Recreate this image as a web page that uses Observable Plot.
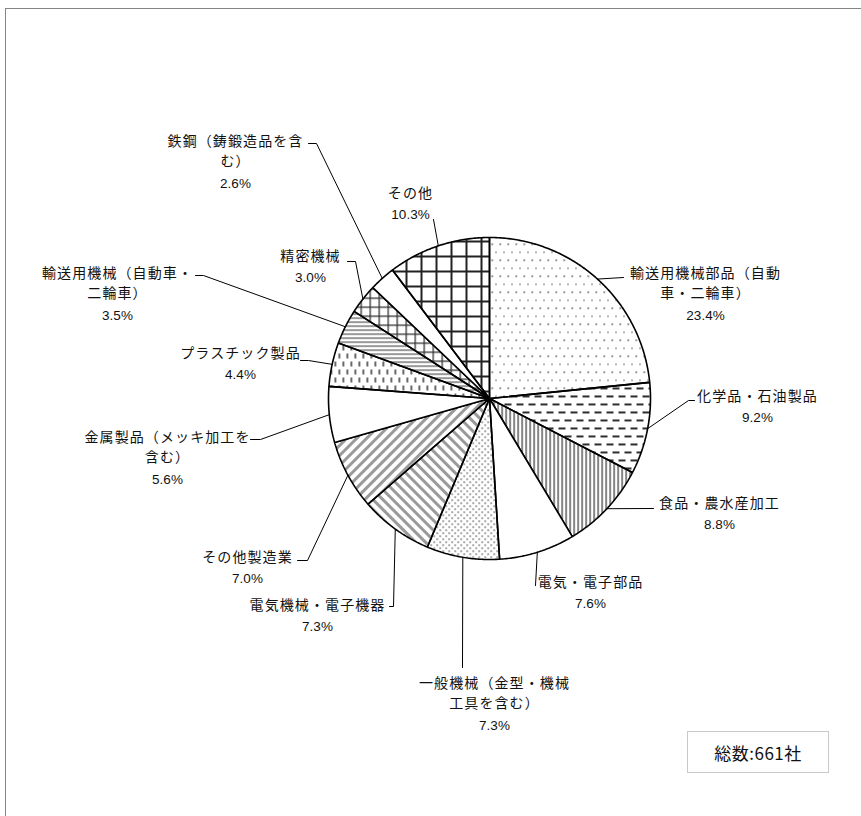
<!DOCTYPE html>
<html>
<head>
<meta charset="utf-8">
<script src="https://cdn.jsdelivr.net/npm/d3@7"></script>
<script src="https://cdn.jsdelivr.net/npm/@observablehq/plot@0.6"></script>
<style>
  html, body { margin: 0; padding: 0; background: #fff; }
  #wrap { position: relative; width: 861px; height: 816px; overflow: hidden; background: #fff; }
  #frame { position: absolute; left: 5px; top: 8px; width: 1000px; height: 1000px;
           border-left: 1px solid #858585; border-top: 1px solid #858585; }
  #chart { position: absolute; left: 0; top: 0; }
  #total { position: absolute; left: 687px; top: 731px; width: 142px; height: 42px; box-sizing: border-box;
           border: 1.5px solid #c9c9c9; background: #fff; display: flex; align-items: center; justify-content: center;
           font-family: "Noto Sans CJK JP", sans-serif; font-size: 17px; letter-spacing: 0.5px; color: #111; }
  g[font-family^="Noto"] text { letter-spacing: 1.1px; }
</style>
</head>
<body>
<div id="wrap">
  <div id="frame"></div>
  <div id="chart"></div>
  <div id="total"></div>
</div>
<script>
// ---- data (clockwise from 12 o'clock) ----
const categories = [
  "輸送用機械部品（自動車・二輪車）",
  "化学品・石油製品",
  "食品・農水産加工",
  "電気・電子部品",
  "一般機械（金型・機械工具を含む）",
  "電気機械・電子機器",
  "その他製造業",
  "金属製品（メッキ加工を含む）",
  "プラスチック製品",
  "輸送用機械（自動車・二輪車）",
  "精密機械",
  "鉄鋼（鋳鍛造品を含む）",
  "その他"
];
const shares = [23.4, 9.2, 8.8, 7.6, 7.3, 7.3, 7.0, 5.6, 4.4, 3.5, 3.0, 2.6, 10.3];
const labelLines = [
  ["輸送用機械部品（自動", "車・二輪車）"],
  ["化学品・石油製品"],
  ["食品・農水産加工"],
  ["電気・電子部品"],
  ["一般機械（金型・機械", "工具を含む）"],
  ["電気機械・電子機器"],
  ["その他製造業"],
  ["金属製品（メッキ加工を", "含む）"],
  ["プラスチック製品"],
  ["輸送用機械（自動車・", "二輪車）"],
  ["精密機械"],
  ["鉄鋼（鋳鍛造品を含", "む）"],
  ["その他"]
];
const totalLabel = "総数:661社";

// ---- styling / layout ----
const patterns = ["url(#p0)", "url(#p1)", "url(#p2)", "white", "url(#p4)", "url(#p5)", "url(#p6)",
                  "white", "url(#p8)", "url(#p9)", "url(#p10)", "white", "url(#p12)"];
const W = 861, H = 816, CX = 489, CY = 398, R = 161;
// label text block: [center x, first line y] (pixels)
const labelAt = [
  [705, 273], [757, 396], [719, 503], [590, 582], [494, 683], [317, 605], [247, 557],
  [167, 437], [240, 353], [117, 273], [310, 256], [235, 141], [410, 193]
];
// leader path points after the slice-edge point (pixels)
const leaderVia = [
  [[623, 277]],
  [[688, 400], [694, 400]],
  [[653, 508]],
  [[535, 585]],
  [[462, 667]],
  [[393, 606], [389, 606]],
  [[307, 560], [297, 560]],
  [[260, 439], [250, 439]],
  [[308, 360], [300, 360]],
  [[203, 275], [195, 275]],
  [[355, 261], [347, 261]],
  [[316, 143], [308, 143]],
  [[433, 219]]
];
const LINE = 20.5, PCT_GAP = 21.5;
const ux = px => (px - CX) / R;
const uy = py => (CY - py) / R;

// ---- geometry from data ----
const arcs = d3.pie().sort(null).value(d => d)(shares);
const sliceRows = [];
arcs.forEach((a, i) => {
  sliceRows.push({cat: i, x: 0, y: 0, pattern: patterns[i]});
  const n = Math.max(2, Math.ceil((a.endAngle - a.startAngle) / 0.01));
  for (let k = 0; k <= n; k++) {
    const t = a.startAngle + (a.endAngle - a.startAngle) * k / n;
    sliceRows.push({cat: i, x: Math.sin(t), y: Math.cos(t), pattern: patterns[i]});
  }
  sliceRows.push({cat: i, x: 0, y: 0, pattern: patterns[i]});
});

const leaderRows = [];
arcs.forEach((a, i) => {
  const m = (a.startAngle + a.endAngle) / 2;
  leaderRows.push({id: i, x: Math.sin(m), y: Math.cos(m)});
  for (const [px, py] of leaderVia[i]) leaderRows.push({id: i, x: ux(px), y: uy(py)});
});

const nameRows = [], pctRows = [];
labelLines.forEach((lines, i) => {
  const [lx, ly] = labelAt[i];
  lines.forEach((t, j) => nameRows.push({x: ux(lx), y: uy(ly + j * LINE), text: t}));
  pctRows.push({x: ux(lx), y: uy(ly + (lines.length - 1) * LINE + PCT_GAP), text: shares[i].toFixed(1) + "%"});
});

const chart = Plot.plot({
  width: W, height: H, margin: 0,
  x: {domain: [ux(0), ux(W)], range: [0, W], axis: null},
  y: {domain: [uy(H), uy(0)], range: [H, 0], axis: null},
  color: {type: "identity"},
  style: {background: "transparent", overflow: "visible"},
  marks: [
    Plot.line(sliceRows, {x: "x", y: "y", z: "cat", fill: "pattern", stroke: "#000", strokeWidth: 1.6,
                          strokeLinejoin: "miter", curve: "linear"}),
    Plot.line(leaderRows, {x: "x", y: "y", z: "id", stroke: "#000", strokeWidth: 1, strokeLinejoin: "miter"}),
    Plot.text(nameRows, {x: "x", y: "y", text: "text", fontFamily: "Noto Sans CJK JP", fontSize: 14, fill: "#111"}),
    Plot.text(pctRows, {x: "x", y: "y", text: "text",
                        fontFamily: "Liberation Sans Narrow, Arial Narrow, Liberation Sans, sans-serif",
                        fontSize: 13.5, fill: "#111"})
  ]
});

chart.insertAdjacentHTML("afterbegin", `
<defs>
  <pattern id="p0" width="8" height="16" patternUnits="userSpaceOnUse">
    <rect x="3" y="3" width="1.4" height="1.4" fill="#333"/>
    <rect x="7" y="11" width="1.4" height="1.4" fill="#333"/>
  </pattern>
  <pattern id="p1" width="12" height="16" patternUnits="userSpaceOnUse">
    <rect x="0" y="3" width="7" height="1.9" fill="#222"/>
    <rect x="6" y="11" width="6" height="1.9" fill="#222"/>
    <rect x="0" y="11" width="1" height="1.9" fill="#222"/>
  </pattern>
  <pattern id="p2" width="4" height="4" patternUnits="userSpaceOnUse">
    <rect x="1" y="0" width="1.2" height="4" fill="#333"/>
  </pattern>
  <pattern id="p4" width="6" height="6" patternUnits="userSpaceOnUse">
    <rect x="1" y="1" width="1.3" height="1.3" fill="#333"/>
    <rect x="4" y="4" width="1.3" height="1.3" fill="#333"/>
  </pattern>
  <pattern id="p5" width="7" height="7" patternUnits="userSpaceOnUse" patternTransform="rotate(-45)">
    <rect x="0" y="0" width="3" height="7" fill="#9a9a9a"/>
  </pattern>
  <pattern id="p6" width="7" height="7" patternUnits="userSpaceOnUse" patternTransform="rotate(45)">
    <rect x="0" y="0" width="3" height="7" fill="#9a9a9a"/>
  </pattern>
  <pattern id="p8" width="8" height="16" patternUnits="userSpaceOnUse">
    <rect x="2" y="1" width="1.6" height="5" fill="#444"/>
    <rect x="6" y="9" width="1.6" height="5" fill="#444"/>
  </pattern>
  <pattern id="p9" width="4" height="4" patternUnits="userSpaceOnUse">
    <rect x="0" y="1" width="4" height="1.2" fill="#555"/>
  </pattern>
  <pattern id="p10" width="9" height="9" patternUnits="userSpaceOnUse">
    <rect x="0" y="0" width="1.3" height="9" fill="#333"/>
    <rect x="0" y="0" width="9" height="1.3" fill="#333"/>
  </pattern>
  <pattern id="p12" width="15" height="15" patternUnits="userSpaceOnUse">
    <rect x="0" y="0" width="2" height="15" fill="#222"/>
    <rect x="0" y="0" width="15" height="2" fill="#222"/>
  </pattern>
</defs>`);

document.getElementById("chart").appendChild(chart);
document.getElementById("total").textContent = totalLabel;
</script>
</body>
</html>
